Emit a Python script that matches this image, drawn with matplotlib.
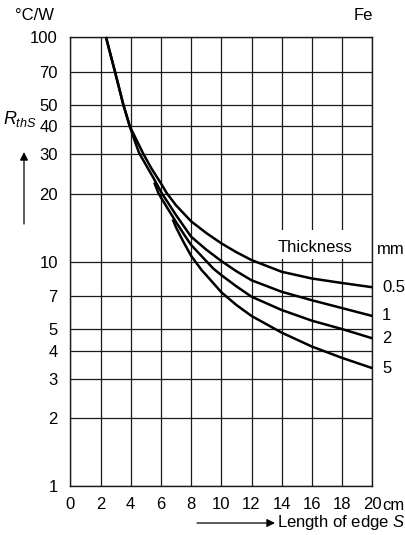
import matplotlib
matplotlib.use("Agg")
import matplotlib.pyplot as plt
from matplotlib.patches import Rectangle

plt.rcParams['font.family'] = ['Liberation Sans', 'DejaVu Sans']
plt.rcParams['mathtext.fontset'] = 'custom'
plt.rcParams['mathtext.rm'] = 'Liberation Sans'
plt.rcParams['mathtext.it'] = 'Liberation Sans:italic'

# values: edge length S (cm) -> R_thS (degC/W)
s_05 = [2.36, 2.96, 3.51, 3.94, 4.4, 4.83, 5.4, 6.0, 6.38, 7.0, 8.0, 9.0, 10, 11, 12, 14, 16, 18, 20]
r_05 = [100, 70, 50, 40, 34.6, 30.2, 25.8, 22.3, 20.2, 17.8, 15.1, 13.4, 12.05, 11.0, 10.15, 9.0, 8.4, 8.02, 7.68]

s_1 = [2.36, 2.96, 3.51, 3.94, 4.2, 4.55, 5.0, 5.5, 6.05, 7.0, 8.0, 9.0, 10, 11, 12, 14, 16, 18, 20]
r_1 = [100, 70, 50, 40, 35.5, 30.5, 27.0, 23.6, 20.2, 16.1, 12.9, 11.3, 10.05, 9.05, 8.25, 7.33, 6.72, 6.2, 5.72]

s_2 = [5.56, 5.83, 6.0, 6.5, 7.0, 7.5, 8.0, 9.0, 9.47, 10, 11, 12, 14, 16, 18, 20]
r_2 = [22.5, 20.2, 19.3, 17.0, 15.0, 13.3, 11.85, 10.05, 9.3, 8.7, 7.75, 6.97, 6.08, 5.45, 5.0, 4.55]

s_5 = [6.78, 7.0, 7.5, 8.0, 8.7, 9.0, 10, 11, 12, 14, 16, 18, 20]
r_5 = [15.4, 14.2, 12.2, 10.6, 9.15, 8.7, 7.3, 6.4, 5.72, 4.82, 4.18, 3.72, 3.35]

thickness = ["0.5", "1", "2", "5"]

x_ticks = [0, 2, 4, 6, 8, 10, 12, 14, 16, 18, 20]
y_ticks = [1, 2, 3, 4, 5, 7, 10, 20, 30, 40, 50, 70, 100]

W, H = 406, 535
fs = 12
fig = plt.figure(figsize=(W / 100, H / 100), dpi=100)
ax = fig.add_axes([70.3 / W, 1 - 486 / H, 302 / W, 449 / H])

ax.set_yscale('log')
ax.set_xlim(0, 20)
ax.set_ylim(1, 100)
ax.set_xticks(x_ticks)
ax.set_xticklabels([str(t) for t in x_ticks])
ax.set_yticks(y_ticks)
ax.set_yticklabels([str(t) for t in y_ticks])
ax.minorticks_off()
ax.tick_params(length=0, labelsize=fs, colors='black')
ax.tick_params(axis='x', pad=8)
ax.tick_params(axis='y', pad=9)
ax.grid(True, color='#1a1a1a', lw=0.9)
ax.set_axisbelow(True)
for sp in ax.spines.values():
    sp.set_linewidth(1.0)
    sp.set_color('#1a1a1a')

# white patch behind the "Thickness" caption
ax.add_patch(Rectangle((12.5, 10.25), 7.2, 3.55, facecolor='white',
                       edgecolor='none', zorder=1.5))

for s, r in [(s_05, r_05), (s_1, r_1), (s_2, r_2), (s_5, r_5)]:
    ax.plot(s, r, color='black', lw=1.8, solid_capstyle='butt',
            solid_joinstyle='round', zorder=3, clip_on=False)

ax.text(16.2, 11.6, "Thickness", fontsize=fs, ha='center', va='center', zorder=4)
ends = [r_05[-1], r_1[-1], r_2[-1], r_5[-1]]
for lab, r in zip(thickness, ends):
    ax.annotate(lab, xy=(20, r), xytext=(7, 0), textcoords='offset points',
                fontsize=fs, ha='left', va='center', annotation_clip=False)
fig.text(377 / W, 1 - 250 / H, "mm", fontsize=fs, ha='left', va='center')

fig.text(15 / W, 1 - 15 / H, "°C/W", fontsize=fs, ha='left', va='center')
fig.text(373 / W, 1 - 15 / H, "Fe", fontsize=fs, ha='right', va='center')
fig.text(382 / W, 1 - 505 / H, "cm", fontsize=fs, ha='left', va='center')

fig.text(3 / W, 1 - 119 / H, r"$R_{thS}$", fontsize=13, ha='left', va='center')
ax.annotate("", xy=(24 / W, 1 - 152 / H), xytext=(24 / W, 1 - 224 / H),
            xycoords='figure fraction', textcoords='figure fraction',
            arrowprops=dict(arrowstyle='-|>', color='black', lw=0.9,
                            mutation_scale=12, shrinkA=0, shrinkB=0))
ax.annotate("", xy=(275 / W, 1 - 523 / H), xytext=(197 / W, 1 - 523 / H),
            xycoords='figure fraction', textcoords='figure fraction',
            arrowprops=dict(arrowstyle='-|>', color='black', lw=0.9,
                            mutation_scale=12, shrinkA=0, shrinkB=0))
fig.text(277 / W, 1 - 523 / H, "Length of edge $S$", fontsize=fs, ha='left', va='center')

fig.savefig("out.png", dpi=100)
